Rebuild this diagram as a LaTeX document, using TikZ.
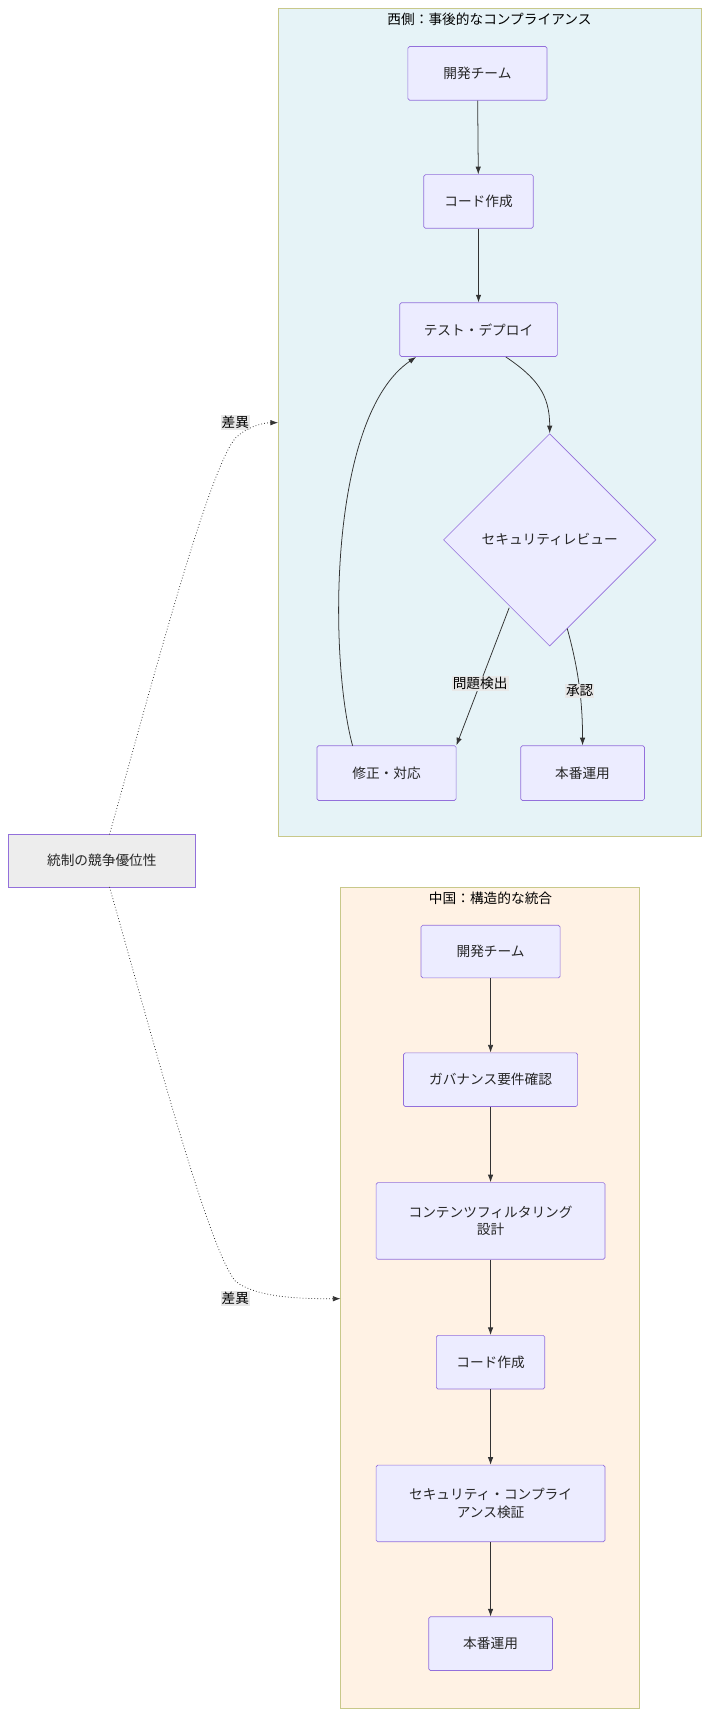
\documentclass[tikz,border=0pt]{standalone}
\usepackage{fontspec}
\setmainfont{Noto Sans CJK JP}
\usetikzlibrary{shapes.geometric,arrows.meta}
\definecolor{nfill}{HTML}{ECECFF}
\definecolor{nbord}{HTML}{9370DB}
\definecolor{cbord}{HTML}{C8C88A}
\definecolor{wfill}{HTML}{E6F3F7}
\definecolor{cfill}{HTML}{FFF2E4}
\definecolor{lab}{HTML}{E8E8E8}
\begin{document}
\begin{tikzpicture}[x=1pt,y=-1pt,font=\fontsize{12.5}{16}\selectfont,
 box/.style={draw=nbord,fill=nfill,line width=0.6pt,rounded corners=1.5pt,inner sep=0pt,align=center,text=black!85},
 arr/.style={-{Latex[length=7pt,width=5pt]},line width=0.7pt,draw=black!80},
 dot/.style={arr,dotted},
 lbl/.style={fill=lab,inner sep=1pt,font=\fontsize{12.5}{14}\selectfont}]
\useasboundingbox (0,0) rectangle (650,1568);
\filldraw[fill=wfill,draw=cbord,line width=0.8pt] (254,8) rectangle (641,764);
\node at (447,18) {西側：事後的なコンプライアンス};
\filldraw[fill=cfill,draw=cbord,line width=0.8pt] (311,810) rectangle (584,1560);
\node at (448,820) {中国：構造的な統合};
\node[box,minimum width=127pt,minimum height=49pt] (w1) at (436,67) {開発チーム};
\node[box,minimum width=100pt,minimum height=49pt] (w2) at (437,184) {コード作成};
\node[box,minimum width=144pt,minimum height=49pt] (w3) at (437,301) {テスト・デプロイ};
\node[box,diamond,rounded corners=0pt,minimum width=194pt,minimum height=194pt] (w4) at (502,493) {セキュリティレビュー};
\node[box,minimum width=127pt,minimum height=50pt] (w5) at (353,706) {修正・対応};
\node[box,minimum width=113pt,minimum height=50pt] (w6) at (532,706) {本番運用};
\draw[arr] (w1) -- (w2);
\draw[arr] (w2) -- (w3);
\draw[arr] (462,326) .. controls (490,345) and (502,360) .. (w4.north);
\draw[arr] (465,555) -- (w5.north east) node[lbl,pos=0.55] {問題検出};
\draw[arr] (518,574) .. controls (528,610) and (532,640) .. (w6.north) node[lbl,pos=0.55] {承認};
\draw[arr] (322,681) .. controls (300,600) and (300,380) .. (380,326);
\node[box,fill=black!7,minimum width=171pt,minimum height=48pt,rounded corners=0pt] (g) at (93,786) {統制の競争優位性};
\node[lbl] (d1) at (215,386) {差異};
\node[lbl] (d2) at (215,1186) {差異};
\draw[dot] (100,762) .. controls (140,620) and (190,430) .. (215,400) .. controls (225,390) and (240,386) .. (254,386);
\draw[dot] (100,810) .. controls (140,950) and (190,1140) .. (215,1170) .. controls (235,1186) and (280,1186) .. (311,1186);
\node[box,minimum width=127pt,minimum height=48pt] (c1) at (448,869) {開発チーム};
\node[box,minimum width=159pt,minimum height=49pt] (c2) at (448,986) {ガバナンス要件確認};
\node[box,minimum width=209pt,minimum height=70pt] (c3) at (448,1115) {コンテンツフィルタリング\\設計};
\node[box,minimum width=99pt,minimum height=49pt] (c4) at (448,1244) {コード作成};
\node[box,minimum width=209pt,minimum height=70pt] (c5) at (448,1373) {セキュリティ・コンプライ\\アンス検証};
\node[box,minimum width=113pt,minimum height=49pt] (c6) at (448,1501) {本番運用};
\draw[arr] (c1)--(c2); \draw[arr] (c2)--(c3); \draw[arr] (c3)--(c4); \draw[arr] (c4)--(c5); \draw[arr] (c5)--(c6);
\end{tikzpicture}
\end{document}
